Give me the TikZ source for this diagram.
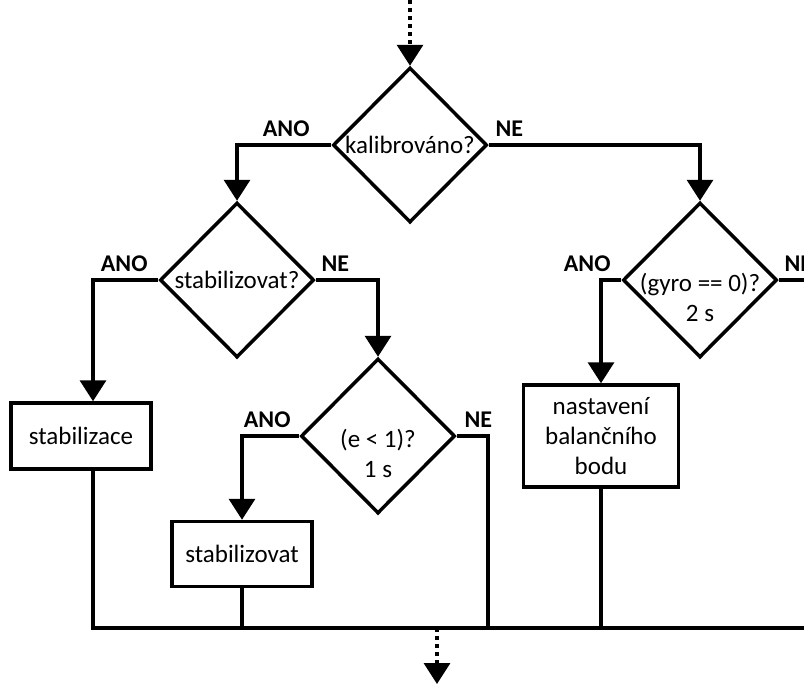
\documentclass[tikz,border=0pt]{standalone}
\usepackage{fontspec}
\setmainfont{Carlito}
\usetikzlibrary{arrows.meta,positioning,shapes.geometric}

\begin{document}
\begin{tikzpicture}[x=1pt,y=-1pt,font=\fontsize{25}{30}\selectfont,line width=3.5pt,
  dec/.style={diamond,draw,inner sep=0pt,minimum width=154pt,minimum height=155pt},
  box/.style={draw,inner sep=0pt,align=center},
  lbl/.style={font=\fontsize{24}{30}\selectfont\bfseries,inner sep=0pt},
  qtxt/.style={align=center,inner sep=0pt},
  a/.style={-{Triangle[length=21pt,width=26pt]}},
  dotarr/.style={a,dash pattern=on 4pt off 4pt}]
\useasboundingbox (0,0) rectangle (804,686);
% decisions
\node[dec,label={[qtxt]center:kalibrováno?}] (d1) at (410,145) {};
\node[dec,label={[qtxt]center:stabilizovat?}] (d2) at (237,280) {};
\node[dec,label={[qtxt,yshift=-17pt]center:{(gyro == 0)?\\2 s}}] (d3) at (700,280) {};
\node[dec,label={[qtxt,yshift=-17pt]center:{(e < 1)?\\1 s}}] (d4) at (378,436) {};
% actions
\node[box,minimum width=140pt,minimum height=66pt] (s1) at (81,436) {stabilizace};
\node[box,minimum width=140pt,minimum height=65pt] (s2) at (242,554) {stabilizovat};
\node[box,minimum width=155pt,minimum height=102pt] (b3) at (601,436) {nastavení\\balančního\\bodu};
% branch labels
\node[lbl,above left=7pt and 20pt of d1.west] (y1) {ANO};
\node[lbl,above right=7pt and 5pt of d1.east] (n1) {NE};
\node[lbl,above left=7pt and 9pt of d2.west] (y2) {ANO};
\node[lbl,above right=7pt and 4pt of d2.east] (n2) {NE};
\node[lbl,above left=7pt and 9pt of d3.west] (y3) {ANO};
\node[lbl,above right=7pt and 4pt of d3.east] (n3) {NE};
\node[lbl,above left=7pt and 7pt of d4.west] (y4) {ANO};
\node[lbl,above right=7pt and 6pt of d4.east] (n4) {NE};
% free ends and junctions
\coordinate (in) at (410,0);
\coordinate (out) at (437,684);
\coordinate (jo) at (437,628);
\coordinate (j1) at (93,628);
\coordinate (j4) at (488,628);
\coordinate (je) at (830,628);
\coordinate (o3) at (830,280);
% connectors
\draw[dotarr] (in) -- (d1);
\draw[a] (d1.west) -| (d2.north);
\draw[a] (d1.east) -| (d3.north);
\draw[a] (d2.west) -| (s1.north -| j1);
\draw[a] (d2.east) -| (d4.north);
\draw[a] (d3.west) -| (b3.north);
\draw (d3.east) -- (o3);
\draw[a] (d4.west) -| (s2.north);
\draw (d4.east) -| (j4);
\draw (s1.south -| j1) -- (j1) -- (je);
\draw (s2.south) -- (s2.south |- j1);
\draw (b3.south) -- (b3.south |- j1);
\draw[dotarr] (jo) -- (out);
\end{tikzpicture}
\end{document}
